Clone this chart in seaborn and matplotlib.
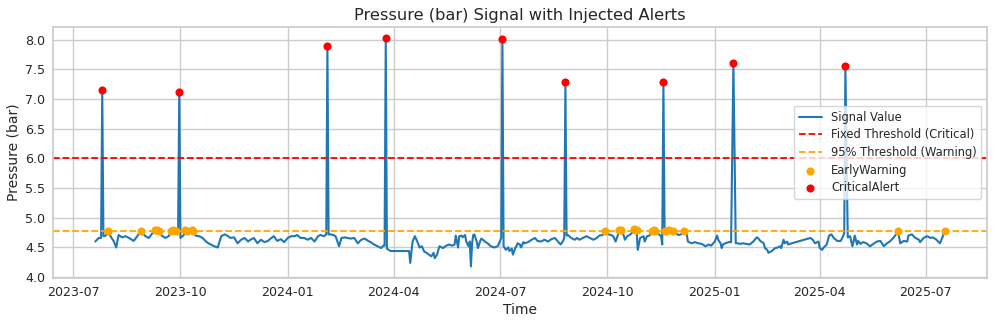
import numpy as np
import pandas as pd
import matplotlib
matplotlib.use("Agg")
import matplotlib.pyplot as plt
import matplotlib.dates as mdates
import seaborn as sns

# ---- data ----
start_date = "2023-07-01"
day_offsets = [
    19, 22, 24, 25, 26, 28, 30, 32, 35, 37, 39, 42, 45, 48, 52, 55, 58, 62, 65, 68,
    70, 72, 74, 76, 79, 82, 84, 86, 88, 90, 91, 92, 95, 96, 98, 100, 102, 103, 105, 108,
    111, 114, 116, 118, 121, 124, 127, 130, 132, 135, 138, 141, 144, 147, 150, 152, 155, 158, 161, 164,
    167, 170, 172, 175, 178, 181, 184, 187, 190, 192, 195, 198, 201, 204, 207, 210, 212, 215, 217, 218,
    219, 221, 223, 225, 228, 230, 233, 235, 238, 241, 244, 247, 250, 253, 255, 258, 261, 264, 266, 267,
    268, 269, 272, 288, 289, 291, 293, 295, 297, 299, 301, 303, 305, 307, 309, 310, 312, 314, 317, 320,
    322, 325, 327, 328, 330, 331, 333, 334, 336, 337, 339, 340, 341, 342, 343, 344, 346, 347, 349, 350,
    353, 356, 358, 361, 364, 367, 368, 369, 371, 373, 374, 376, 377, 379, 380, 381, 383, 384, 386, 387,
    390, 393, 396, 398, 401, 404, 407, 410, 413, 416, 418, 420, 421, 422, 423, 424, 427, 430, 432, 434,
    437, 440, 443, 446, 449, 451, 454, 456, 459, 461, 463, 465, 467, 468, 470, 472, 473, 475, 477, 480,
    481, 482, 483, 484, 486, 489, 490, 492, 494, 496, 498, 499, 501, 504, 505, 506, 507, 508, 511, 514,
    516, 519, 521, 524, 526, 527, 530, 533, 536, 539, 542, 545, 547, 550, 552, 553, 555, 556, 557, 559,
    562, 564, 566, 568, 570, 572, 574, 577, 580, 583, 586, 587, 589, 592, 593, 595, 596, 597, 599, 600,
    602, 604, 606, 607, 609, 610, 612, 613, 616, 632, 634, 636, 639, 640, 642, 643, 646, 648, 650, 652,
    655, 658, 660, 661, 662, 664, 666, 668, 669, 670, 672, 673, 675, 677, 680, 683, 686, 689, 692, 695,
    697, 700, 703, 705, 707, 709, 712, 715, 716, 719, 722, 725, 726, 729, 732, 735, 737, 740, 743, 745,
    747,
]
pressure = [
    4.60, 4.66, 4.66, 7.15, 4.69, 4.70, 4.78, 4.69, 4.60, 4.50, 4.71, 4.67, 4.69, 4.66, 4.61, 4.69, 4.78, 4.69, 4.66, 4.74,
    4.79, 4.80, 4.78, 4.70, 4.66, 4.69, 4.78, 4.79, 4.78, 4.74, 7.12, 4.66, 4.71, 4.79, 4.78, 4.75, 4.79, 4.78, 4.70, 4.69,
    4.66, 4.60, 4.57, 4.55, 4.52, 4.50, 4.69, 4.72, 4.70, 4.66, 4.67, 4.57, 4.63, 4.66, 4.60, 4.63, 4.66, 4.57, 4.63, 4.59,
    4.61, 4.66, 4.69, 4.61, 4.64, 4.59, 4.66, 4.69, 4.69, 4.71, 4.66, 4.66, 4.63, 4.66, 4.60, 4.69, 4.71, 4.69, 4.72, 7.90,
    4.72, 4.72, 4.71, 4.69, 4.52, 4.66, 4.67, 4.66, 4.65, 4.66, 4.57, 4.63, 4.65, 4.61, 4.59, 4.55, 4.52, 4.49, 4.53, 4.53,
    8.02, 4.48, 4.44, 4.44, 4.24, 4.60, 4.69, 4.60, 4.50, 4.52, 4.43, 4.41, 4.38, 4.35, 4.41, 4.32, 4.38, 4.52, 4.49, 4.53,
    4.55, 4.53, 4.55, 4.70, 4.50, 4.69, 4.70, 4.67, 4.71, 4.60, 4.52, 4.60, 4.18, 4.57, 4.71, 4.72, 4.60, 4.49, 4.61, 4.65,
    4.60, 4.56, 4.52, 4.50, 4.52, 4.66, 8.01, 4.52, 4.46, 4.50, 4.44, 4.48, 4.38, 4.49, 4.52, 4.57, 4.55, 4.50, 4.59, 4.57,
    4.59, 4.63, 4.66, 4.61, 4.60, 4.63, 4.60, 4.64, 4.66, 4.59, 4.55, 4.61, 4.66, 7.28, 4.70, 4.71, 4.66, 4.63, 4.66, 4.63,
    4.66, 4.69, 4.66, 4.63, 4.66, 4.70, 4.71, 4.78, 4.72, 4.71, 4.69, 4.60, 4.71, 4.79, 4.80, 4.70, 4.63, 4.69, 4.71, 4.76,
    4.81, 4.80, 4.79, 4.46, 4.66, 4.69, 4.60, 4.69, 4.70, 4.78, 4.79, 4.78, 4.74, 4.69, 4.55, 7.28, 4.78, 4.78, 4.79, 4.78,
    4.74, 4.71, 4.72, 4.78, 4.72, 4.60, 4.57, 4.59, 4.57, 4.56, 4.52, 4.55, 4.53, 4.60, 4.70, 4.63, 4.57, 4.49, 4.55, 4.57,
    4.59, 4.59, 7.60, 4.57, 4.57, 4.56, 4.57, 4.56, 4.55, 4.60, 4.67, 4.66, 4.61, 4.57, 4.49, 4.46, 4.41, 4.42, 4.44, 4.46,
    4.49, 4.50, 4.52, 4.49, 4.63, 4.57, 4.60, 4.55, 4.57, 4.66, 4.63, 4.57, 4.60, 4.49, 4.46, 4.49, 4.55, 4.70, 4.72, 4.66,
    4.61, 4.61, 4.69, 4.74, 7.55, 4.67, 4.69, 4.52, 4.60, 4.70, 4.55, 4.61, 4.56, 4.59, 4.57, 4.52, 4.56, 4.60, 4.61, 4.52,
    4.56, 4.60, 4.66, 4.71, 4.78, 4.57, 4.61, 4.60, 4.70, 4.72, 4.66, 4.63, 4.59, 4.66, 4.69, 4.66, 4.67, 4.63, 4.57, 4.66,
    4.78,
]
critical_threshold = 6.0
warning_threshold = 4.77

# ---- frame ----
df = pd.DataFrame({
    "Time": pd.Timestamp(start_date) + pd.to_timedelta(day_offsets, unit="D"),
    "Pressure": pressure,
})
crit = df[df["Pressure"] > critical_threshold]
warn = df[(df["Pressure"] >= warning_threshold) & (df["Pressure"] <= critical_threshold)]

sns.set_theme(style="whitegrid")
plt.rcParams["font.family"] = ["DejaVu Sans"]

fig, ax = plt.subplots(figsize=(9.96, 3.25), dpi=100)
fig.subplots_adjust(left=0.053, right=0.991, top=0.917, bottom=0.145)

sns.lineplot(data=df, x="Time", y="Pressure", ax=ax, color="#1f77b4",
             linewidth=1.5, label="Signal Value")
ax.axhline(critical_threshold, color="red", linestyle="--", linewidth=1.3,
           label="Fixed Threshold (Critical)")
ax.axhline(warning_threshold, color="orange", linestyle="--", linewidth=1.3,
           label="95% Threshold (Warning)")
sns.scatterplot(data=warn, x="Time", y="Pressure", ax=ax, color="orange",
                s=34, linewidth=0, label="EarlyWarning", zorder=3)
sns.scatterplot(data=crit, x="Time", y="Pressure", ax=ax, color="red",
                s=34, linewidth=0, label="CriticalAlert", zorder=3)

ax.margins(x=0.05, y=0.05)
ax.xaxis.set_major_locator(mdates.MonthLocator(bymonth=[1, 4, 7, 10]))
ax.xaxis.set_major_formatter(mdates.DateFormatter("%Y-%m"))
ax.tick_params(axis="both", labelsize=9.1, length=0, pad=5.5)

ax.set_title("Pressure (bar) Signal with Injected Alerts", fontsize=11.7, pad=5)
ax.set_xlabel("Time", fontsize=10, labelpad=3)
ax.set_ylabel("Pressure (bar)", fontsize=10)
ax.yaxis.set_label_coords(-0.035, 0.5)

ax.legend(loc="center right", fontsize=8.3, frameon=True, labelspacing=0.4)

fig.savefig("out.png", dpi=100)
